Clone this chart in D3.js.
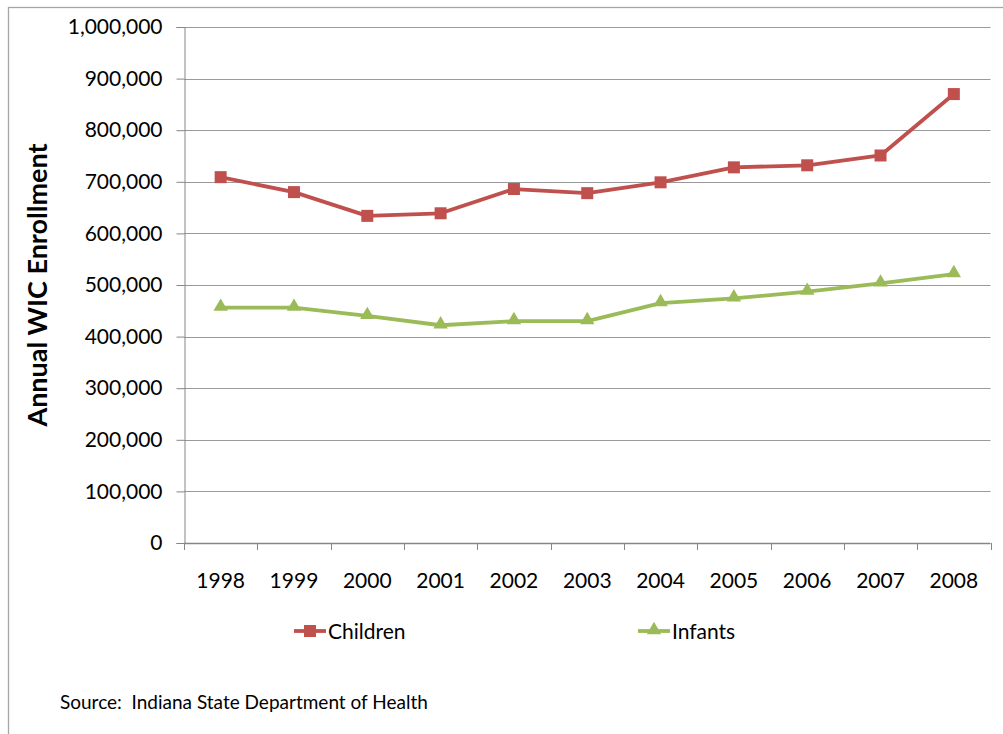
<!DOCTYPE html>
<html>
<head>
<meta charset="utf-8">
<script src="https://cdn.jsdelivr.net/npm/d3@7"></script>
<style>
  body { margin: 0; background: #fff; }
  svg { display: block; font-family: Lato, "Open Sans", sans-serif; }
</style>
</head>
<body>
<svg id="chart" width="1003" height="734"></svg>
<script>
const years = ["1998","1999","2000","2001","2002","2003","2004","2005","2006","2007","2008"];
const children = [709000, 680000, 634000, 639000, 686000, 678000, 699000, 728000, 732000, 751000, 870000];
const infants  = [456000, 456000, 440000, 422000, 430000, 430000, 465000, 474000, 487000, 503000, 521000];
const yTicks = [0,100000,200000,300000,400000,500000,600000,700000,800000,900000,1000000];
const seriesNames = ["Children", "Infants"];
const colors = ["#C0504D", "#9BBB59"];
const yTitle = "Annual WIC Enrollment";
const source = "Source:  Indiana State Department of Health";

const svg = d3.select("#chart");
const L = 184, R = 990.5, T = 27, B = 543;

// outer border
svg.append("rect").attr("x", 8.5).attr("y", 7.5).attr("width", 1010).attr("height", 800)
  .attr("fill", "none").attr("stroke", "#a6a6a6").attr("stroke-width", 1.3);

const x = d3.scaleBand().domain(years).range([L, R]).padding(0);
const y = d3.scaleLinear().domain([0, 1000000]).range([B, T]);

// gridlines
svg.append("g").selectAll("line").data(yTicks.filter(d => d > 0)).join("line")
  .attr("x1", L).attr("x2", R).attr("y1", d => Math.round(y(d)) + 0.5).attr("y2", d => Math.round(y(d)) + 0.5)
  .attr("stroke", "#9a9a9a").attr("stroke-width", 1);

// y axis
const yAxis = svg.append("g").attr("transform", `translate(${L + 0.5},0)`)
  .call(d3.axisLeft(y).tickValues(yTicks).tickSize(8).tickPadding(14)
    .tickFormat(d => d3.format(",")(d)));
yAxis.select(".domain").attr("stroke", "#868686");
yAxis.selectAll(".tick line").attr("stroke", "#868686");
yAxis.selectAll(".tick text").attr("font-size", 21).attr("fill", "#000")
  .attr("font-family", "Lato, sans-serif");

// x axis
const tickPos = years.map(d => x(d)).concat([R]);
const xg = svg.append("g");
xg.append("line").attr("x1", L).attr("x2", R).attr("y1", B + 0.5).attr("y2", B + 0.5)
  .attr("stroke", "#868686").attr("stroke-width", 1.5);
xg.selectAll("line.tk").data(tickPos).join("line").attr("class", "tk")
  .attr("x1", d => Math.round(d) + 0.5).attr("x2", d => Math.round(d) + 0.5)
  .attr("y1", B).attr("y2", B + 7).attr("stroke", "#868686");
xg.selectAll("text").data(years).join("text")
  .attr("x", d => x(d) + x.bandwidth() / 2).attr("y", 588)
  .attr("text-anchor", "middle").attr("font-size", 21).text(d => d);

// lines
const line = d3.line().x((d, i) => x(years[i]) + x.bandwidth() / 2).y(d => y(d));
const data = [children, infants];
data.forEach((s, k) => {
  svg.append("path").datum(s).attr("d", line).attr("fill", "none")
    .attr("stroke", colors[k]).attr("stroke-width", 3.8).attr("stroke-linejoin", "round");
});
// markers
svg.append("g").selectAll("rect").data(children).join("rect")
  .attr("x", (d, i) => x(years[i]) + x.bandwidth() / 2 - 6).attr("y", d => y(d) - 6)
  .attr("width", 12).attr("height", 12).attr("fill", colors[0]);
const tri = d3.symbol().type(d3.symbolTriangle).size(90);
svg.append("g").selectAll("path").data(infants).join("path")
  .attr("transform", (d, i) => `translate(${x(years[i]) + x.bandwidth() / 2},${y(d) - 1})`)
  .attr("d", tri).attr("fill", colors[1]);

// y title
svg.append("text").attr("transform", "translate(47,285) rotate(-90)")
  .attr("text-anchor", "middle").attr("font-size", 27).attr("font-weight", "bold")
  .text(yTitle);

// legend
const legX = [294, 638];
seriesNames.forEach((n, k) => {
  const g = svg.append("g").attr("transform", `translate(${legX[k]},631)`);
  g.append("line").attr("x1", 0).attr("x2", 32).attr("stroke", colors[k]).attr("stroke-width", 3.8);
  if (k === 0) g.append("rect").attr("x", 10).attr("y", -6).attr("width", 12).attr("height", 12).attr("fill", colors[k]);
  else g.append("path").attr("transform", "translate(16,-1)").attr("d", tri).attr("fill", colors[k]);
  g.append("text").attr("x", 34).attr("y", 7.5).attr("font-size", 21).text(n);
});

// source
svg.append("text").attr("x", 60).attr("y", 709).attr("font-size", 19)
  .style("white-space", "pre").attr("xml:space", "preserve").text(source);
</script>
</body>
</html>
